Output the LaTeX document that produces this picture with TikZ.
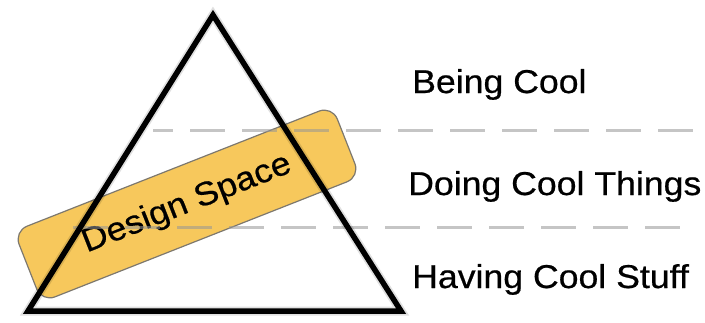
\documentclass[tikz,border=0pt]{standalone}
\usepackage{fontspec}
\setmainfont{Liberation Sans}
\newfontfamily\lblfont[FakeStretch=1.08,FakeBold=0.6]{Liberation Sans}
\definecolor{boxorange}{RGB}{247,200,92}
\definecolor{boxedge}{RGB}{125,120,110}
\definecolor{dashgray}{RGB}{150,150,150}
\begin{document}
\begin{tikzpicture}[x=1pt,y=-1pt,
  lbl/.style={anchor=base west,inner sep=0pt,font=\lblfont\fontsize{33}{40}\selectfont},
  dsbox/.style={draw=boxedge,line width=1.2pt,fill=boxorange,rounded corners=14pt,
    minimum width=342pt,minimum height=76pt,inner sep=0pt,
    font=\lblfont\fontsize{33}{40}\selectfont},
  level/.style={draw=dashgray,line width=3pt,opacity=0.55,dash pattern=on 35pt off 17pt},
  tri/.style={draw=black,line width=5.5pt,line join=miter},
  trishadow/.style={draw=black,line width=9pt,opacity=0.12,line join=miter}]
\useasboundingbox (0,0) rectangle (705,322);
% design space box
\node[dsbox,rotate=21.5] (ds) at (187,204) {Design Space};
% level separators
\coordinate (u1) at (153,130);
\coordinate (u2) at (695,130);
\coordinate (l1) at (73,227);
\coordinate (l2) at (680,227);
\draw[level,dash phase=15pt] (u1) -- (u2);
\draw[level] (l1) -- (l2);
% triangle
\coordinate (apex) at (213,15);
\coordinate (bl) at (28,311);
\coordinate (br) at (401,311);
\draw[trishadow,shift={(2pt,-3pt)}] (apex) -- (bl) -- (br) -- cycle;
\draw[tri] (apex) -- (bl) -- (br) -- cycle;
% labels
\node[lbl] (being) at (412,93) {Being Cool};
\node[lbl] (doing) at (408,195) {Doing Cool Things};
\node[lbl] (having) at (412,288) {Having Cool Stuff};
\end{tikzpicture}
\end{document}
